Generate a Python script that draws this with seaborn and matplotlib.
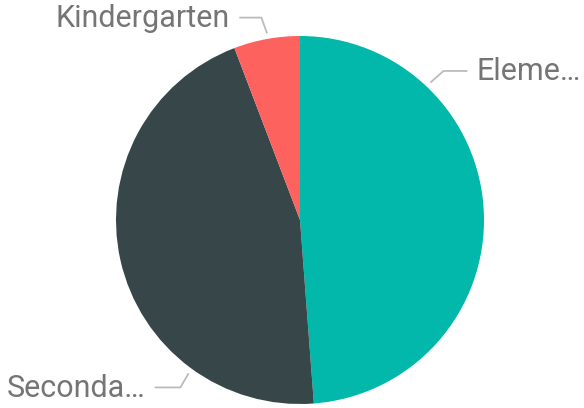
import matplotlib
matplotlib.use("Agg")
import matplotlib.pyplot as plt
import numpy as np
import seaborn as sns

# school levels, share of total
levels = ["Elementary", "Secondary", "Kindergarten"]
shares = [48.8, 45.4, 5.8]
shown = ["Eleme…", "Seconda…", "Kindergarten"]
colors = ["#01B8AA", "#374649", "#FD625E"]

sns.set_style("white")
plt.rcParams["font.family"] = ["Roboto", "DejaVu Sans"]

fig = plt.figure(figsize=(5.84, 4.08), dpi=100)
ax = fig.add_axes([0, 0, 1, 1])

wedges, _ = ax.pie(shares, colors=colors, startangle=90, counterclock=False,
                   radius=1.0, wedgeprops={"linewidth": 0})

# pixel frame: center (300,220), radius 184
ax.set_xlim(-300 / 184, (584 - 300) / 184)
ax.set_ylim(-(408 - 220) / 184, 220 / 184)
ax.set_aspect("equal")
ax.axis("off")

# leader layout: anchor angle (deg from top, clockwise), elbow, text side
lead = {
    "Elementary": dict(ang=43.5, elbow=(0.78, 0.81), end=(0.91, 0.81), ha="left"),
    "Secondary": dict(ang=216, elbow=(-0.65, -0.91), end=(-0.79, -0.91), ha="right"),
    "Kindergarten": dict(ang=350, elbow=(-0.21, 1.10), end=(-0.33, 1.10), ha="right"),
}

for name, txt in zip(levels, shown):
    L = lead[name]
    a = np.deg2rad(L["ang"])
    p0 = (1.03 * np.sin(a), 1.03 * np.cos(a))
    ex, ey = L["elbow"]
    tx, ty = L["end"]
    ax.plot([p0[0], ex, tx], [p0[1], ey, ty], color="#BBBBBB", lw=1.3,
            solid_capstyle="butt")
    off = 0.05 if L["ha"] == "left" else -0.05
    ax.text(tx + off, ty - 0.005, txt, ha=L["ha"], va="center", fontsize=22,
            color="#757575")

fig.savefig("out.png", dpi=100)
